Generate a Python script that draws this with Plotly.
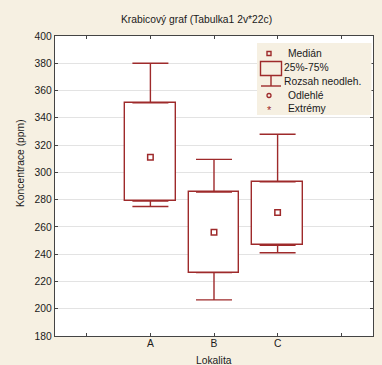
import plotly.graph_objects as go

# ---- data ----
categories = ["A", "B", "C"]
lower_whisker = [275, 206.5, 241]
q1 = [279, 226.5, 246.5]
median = [311, 256, 270.5]
q3 = [351, 285.5, 293]
upper_whisker = [380, 309.5, 328]

title_text = "Krabicový graf (Tabulka1 2v*22c)"
x_title = "Lokalita"
y_title = "Koncentrace (ppm)"
legend_labels = ["Medián", "25%-75%", "Rozsah neodleh.", "Odlehlé", "Extrémy"]

RED = "#9e2a2b"
PAPER = "#f6f0e2"
FONT = "Liberation Sans, Arial, sans-serif"
TXT = "#1a1a1a"

xpos = [i + 1 for i in range(len(categories))]

fig = go.Figure()

# boxes (25%-75%) as bars based at q1
fig.add_trace(go.Bar(
    x=xpos, y=[b - a for a, b in zip(q1, q3)], base=q1, width=0.8,
    marker=dict(color="white", line=dict(color=RED, width=1.4)),
    showlegend=False, hoverinfo="skip"))

# upper whiskers from q3
fig.add_trace(go.Scatter(
    x=xpos, y=q3, mode="markers", marker=dict(size=1, color="rgba(0,0,0,0)"),
    error_y=dict(type="data", symmetric=False,
                 array=[u - b for u, b in zip(upper_whisker, q3)],
                 arrayminus=[0] * len(q3), color=RED, thickness=1.4, width=18),
    showlegend=False, hoverinfo="skip"))
# lower whiskers from q1
fig.add_trace(go.Scatter(
    x=xpos, y=q1, mode="markers", marker=dict(size=1, color="rgba(0,0,0,0)"),
    error_y=dict(type="data", symmetric=False,
                 array=[0] * len(q1),
                 arrayminus=[a - l for a, l in zip(q1, lower_whisker)],
                 color=RED, thickness=1.4, width=18),
    showlegend=False, hoverinfo="skip"))

# medians
fig.add_trace(go.Scatter(
    x=xpos, y=median, mode="markers",
    marker=dict(symbol="square-open", size=5.5, color=RED, line=dict(width=1.5, color=RED)),
    showlegend=False))

# ---- manual legend ----
W, H = 382, 365
ml, mr, mt, mb = 55, 9, 36, 29
pw, ph = W - ml - mr, H - mt - mb


def fx(px):
    return (px - ml) / pw


def fy(py):
    return (H - mb - py) / ph


shapes = []
annotations = []
# legend background
shapes.append(dict(type="rect", xref="paper", yref="paper", x0=fx(257), x1=fx(371.5),
                   y0=fy(115), y1=fy(43), fillcolor=PAPER, line=dict(width=0), layer="above"))
# median icon
shapes.append(dict(type="rect", xref="paper", yref="paper", xsizemode="pixel", ysizemode="pixel",
                   xanchor=fx(269), yanchor=fy(53.5), x0=-2, x1=2, y0=-2, y1=2,
                   line=dict(color=RED, width=1.4), fillcolor="rgba(0,0,0,0)", layer="above"))
# box icon
shapes.append(dict(type="rect", xref="paper", yref="paper", xsizemode="pixel", ysizemode="pixel",
                   xanchor=fx(271), yanchor=fy(68.5), x0=-10.5, x1=10.5, y0=-7, y1=7,
                   line=dict(color=RED, width=1.4), fillcolor="rgba(0,0,0,0)", layer="above"))
# whisker icon (stem + cap)
shapes.append(dict(type="line", xref="paper", yref="paper", xsizemode="pixel", ysizemode="pixel",
                   xanchor=fx(271), yanchor=fy(86), x0=0, x1=0, y0=0, y1=10.5,
                   line=dict(color=RED, width=1.4), layer="above"))
shapes.append(dict(type="line", xref="paper", yref="paper", xsizemode="pixel", ysizemode="pixel",
                   xanchor=fx(271), yanchor=fy(86), x0=-10, x1=10, y0=0, y1=0,
                   line=dict(color=RED, width=1.4), layer="above"))
# outlier icon (circle)
shapes.append(dict(type="circle", xref="paper", yref="paper", xsizemode="pixel", ysizemode="pixel",
                   xanchor=fx(269), yanchor=fy(95.5), x0=-2, x1=2, y0=-2, y1=2,
                   line=dict(color=RED, width=1.3), layer="above"))
# extreme icon (asterisk)
annotations.append(dict(xref="paper", yref="paper", x=fx(269), y=fy(110), text="*",
                        showarrow=False, font=dict(family=FONT, size=11, color=RED),
                        xanchor="center", yanchor="middle"))

leg_x = [285.5, 282.3, 282.3, 285.5, 285.5]
leg_y = [53.5, 67.3, 81, 95.5, 108.5]
for lab, lx, ly in zip(legend_labels, leg_x, leg_y):
    annotations.append(dict(xref="paper", yref="paper", x=fx(lx), y=fy(ly), text=lab,
                            showarrow=False, font=dict(family=FONT, size=10.3, color=TXT),
                            xanchor="left", yanchor="middle"))

# axis titles and title
annotations.append(dict(xref="paper", yref="paper", x=fx(214), y=fy(360), text=x_title,
                        showarrow=False, font=dict(family=FONT, size=10.3, color=TXT),
                        xanchor="center", yanchor="middle"))
annotations.append(dict(xref="paper", yref="paper", x=fx(20), y=fy(163), text=y_title,
                        showarrow=False, textangle=-90, font=dict(family=FONT, size=10.3, color=TXT),
                        xanchor="center", yanchor="middle"))
annotations.append(dict(xref="paper", yref="paper", x=fx(196), y=fy(19), text=title_text,
                        showarrow=False, font=dict(family=FONT, size=10.3, color=TXT),
                        xanchor="center", yanchor="middle"))

fig.update_layout(
    width=W, height=H,
    margin=dict(l=ml, r=mr, t=mt, b=mb, autoexpand=False),
    paper_bgcolor=PAPER, plot_bgcolor="white",
    showlegend=False,
    font=dict(family=FONT, size=10.3, color=TXT),
    shapes=shapes, annotations=annotations,
    bargap=0,
)
fig.update_xaxes(
    range=[-0.5, 4.5], tickmode="array", tickvals=[0, 1, 2, 3, 4],
    ticktext=[""] + categories + [""],
    showgrid=False, zeroline=False,
    showline=True, linecolor="#444444", linewidth=1.3, mirror="ticks",
    ticks="inside", ticklen=3, tickcolor="#444444", tickwidth=1,
    ticklabelstandoff=-3,
    tickfont=dict(size=10.3))
fig.update_yaxes(
    range=[180, 400], tickmode="linear", tick0=180, dtick=20,
    showgrid=True, gridcolor="#e3e3e3", gridwidth=1, zeroline=False,
    showline=True, linecolor="#444444", linewidth=1.3, mirror="ticks",
    ticks="inside", ticklen=3, tickcolor="#444444", tickwidth=1,
    tickfont=dict(size=10.3))

fig.write_html(
    "out.html",
    config={"displayModeBar": False},
    post_script="document.body.style.margin='0';document.body.style.overflow='hidden';"
                "document.body.style.background='" + PAPER + "';",
)
